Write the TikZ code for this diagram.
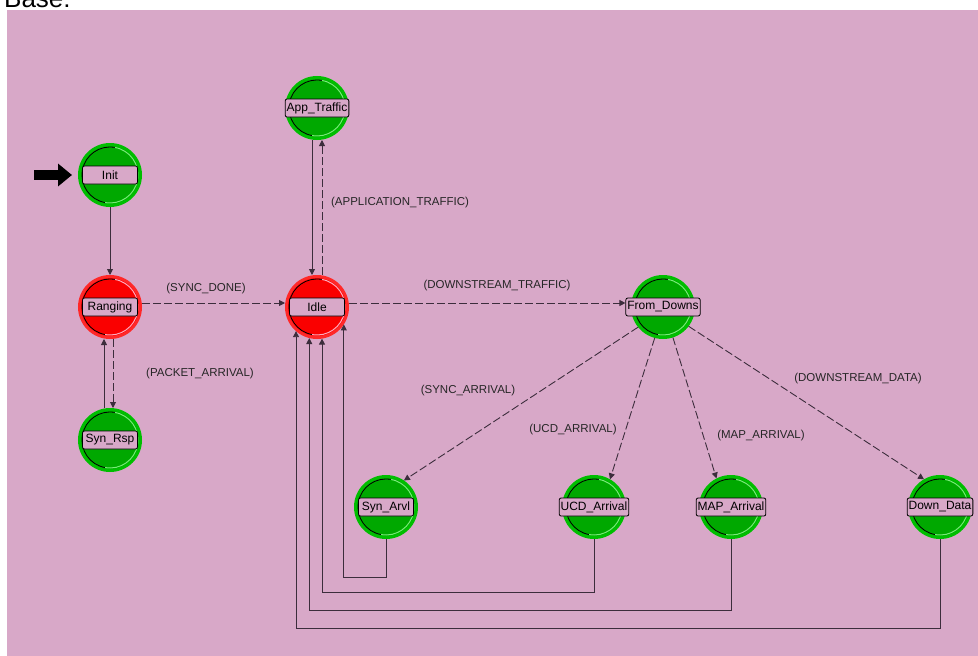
\documentclass[tikz,border=0pt]{standalone}
\usepackage{fontspec}
\setmainfont{Liberation Sans}
\usepackage{tikz}
\usetikzlibrary{shapes, calc, arrows.meta, positioning}

\definecolor{bgpink}{RGB}{216,168,200}
\definecolor{stgreen}{RGB}{0,168,0}
\definecolor{ringgreen}{RGB}{0,190,0}
\definecolor{hlgreen}{RGB}{120,235,120}
\definecolor{stred}{RGB}{250,0,0}
\definecolor{ringred}{RGB}{255,40,40}
\definecolor{hlred}{RGB}{255,170,190}
\definecolor{wirecol}{RGB}{60,45,60}

\begin{document}
\begin{tikzpicture}[x=1pt, y=-1pt, font=\fontsize{11.5}{13}\selectfont, >={Triangle[length=6pt,width=6pt]},
    shade arcs/.style={path picture={
        \draw[black, line width=0.8pt] (path picture bounding box.center) ++(80:28pt) arc[start angle=80, end angle=260, radius=28pt];
        \draw[#1, line width=1pt] (path picture bounding box.center) ++(260:28pt) arc[start angle=260, end angle=440, radius=28pt];}},
    greenstate/.style={circle, minimum size=61pt, inner sep=0pt, line width=3pt, draw=ringgreen, fill=stgreen, shade arcs=hlgreen},
    redstate/.style={circle, minimum size=61pt, inner sep=0pt, line width=3pt, draw=ringred, fill=stred, shade arcs=hlred},
    lblbox/.style={draw=black, fill=bgpink, rounded corners=2pt, line width=0.8pt, minimum width=55pt, minimum height=18pt, inner xsep=1.5pt, inner ysep=0pt, font=\fontsize{12}{14}\selectfont},
    wire/.style={draw=wirecol, line width=0.9pt},
    solidarr/.style={wire, ->},
    dasharr/.style={wire, ->, dash pattern=on 8pt off 3pt},
    trlabel/.style={text=black!85, inner sep=1pt}]

    % page and background
    \fill[white] (0,0) rectangle (978,656);
    \useasboundingbox (0,0) rectangle (978,656);
    \fill[bgpink] (7,10) rectangle (978,656);
    \node[anchor=base west, inner sep=0pt, font=\fontsize{26}{30}\selectfont] (base) at (4,7) {Base:};

    % states
    \node[greenstate, label={[lblbox]center:Init}] (init) at (110,175) {};
    \node[redstate, below=68pt of init, label={[lblbox]center:Ranging}] (ranging) {};
    \node[greenstate, below=69pt of ranging, label={[lblbox]center:Syn\_Rsp}] (synrsp) {};
    \node[redstate, right=143pt of ranging, label={[lblbox]center:Idle}] (idle) {};
    \node[greenstate, above=135pt of idle, label={[lblbox]center:App\_Traffic}] (apptraffic) {};
    \node[greenstate, right=282pt of idle, label={[lblbox, name=fromdownslbl]center:From\_Downs}] (fromdowns) {};
    \node[greenstate, below=136pt of idle, xshift=69pt, label={[lblbox]center:Syn\_Arvl}] (synarvl) {};
    \node[greenstate, right=144pt of synarvl, label={[lblbox]center:UCD\_Arrival}] (ucdarrival) {};
    \node[greenstate, right=73pt of ucdarrival, label={[lblbox]center:MAP\_Arrival}] (maparrival) {};
    \node[greenstate, right=145pt of maparrival, label={[lblbox]center:Down\_Data}] (downdata) {};

    % initial state
    \coordinate (initin) at (34,175);
    \draw[line width=10pt, -{Triangle[length=14pt,width=22pt]}] (initin) -- ([xshift=-6pt]init.west);

    % transitions
    \draw[solidarr] (init) -- (ranging);
    \draw[dasharr] ([xshift=3pt]ranging.south) -- ([xshift=3pt]synrsp.north);
    \draw[solidarr] ([xshift=-6pt]synrsp.north) -- ([xshift=-6pt]ranging.south);
    \draw[dasharr] ([yshift=4pt]ranging.east) -- ([yshift=4pt]idle.west);
    \draw[dasharr] ([xshift=5pt]idle.north) -- ([xshift=5pt]apptraffic.south);
    \draw[solidarr] ([xshift=-5pt]apptraffic.south) -- ([xshift=-5pt]idle.north);
    \draw[dasharr] ([yshift=4pt]idle.east) -- ([yshift=4pt]fromdownslbl.west);

    \draw[dasharr] (fromdowns.219) -- (synarvl.56);
    \draw[dasharr] (fromdowns.255) -- (ucdarrival.60);
    \draw[dasharr] (fromdowns.288) -- (maparrival.117);
    \draw[dasharr] (fromdowns.323) -- (downdata.120);

    % back to idle
    \draw[solidarr] (synarvl.south) -- ++(0,-38pt) -| (idle.-33);
    \draw[solidarr] (ucdarrival.south) -- ++(0,-53pt) -| (idle.-81);
    \draw[solidarr] (maparrival.south) -- ++(0,-71pt) -| (idle.-104);
    \draw[solidarr] (downdata.south) -- ++(0,-89pt) -| (idle.-131);

    % transition labels
    \node[trlabel] (syncdonelbl) at (206,289) {(SYNC\_DONE)};
    \node[trlabel] (packetlbl) at (200,374) {(PACKET\_ARRIVAL)};
    \node[trlabel] (applbl) at (400,203) {(APPLICATION\_TRAFFIC)};
    \node[trlabel] (dstrafficlbl) at (497,286) {(DOWNSTREAM\_TRAFFIC)};
    \node[trlabel] (syncarrlbl) at (468,391) {(SYNC\_ARRIVAL)};
    \node[trlabel] (ucdarrlbl) at (573,430) {(UCD\_ARRIVAL)};
    \node[trlabel] (maparrlbl) at (761,436) {(MAP\_ARRIVAL)};
    \node[trlabel] (dsdatalbl) at (858,379) {(DOWNSTREAM\_DATA)};

\end{tikzpicture}
\end{document}
